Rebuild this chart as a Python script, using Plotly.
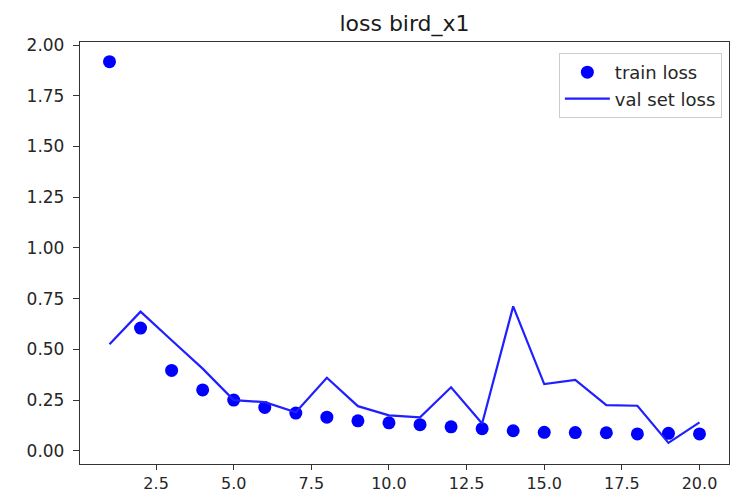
import plotly.graph_objects as go

epochs = list(range(1, 21))
train_loss = [1.918, 0.605, 0.396, 0.300, 0.250, 0.214, 0.186, 0.166, 0.148, 0.138,
              0.129, 0.118, 0.109, 0.099, 0.091, 0.090, 0.089, 0.083, 0.086, 0.083]
val_loss = [0.525, 0.686, 0.545, 0.405, 0.250, 0.240, 0.190, 0.360, 0.220, 0.175,
            0.165, 0.313, 0.135, 0.712, 0.329, 0.350, 0.225, 0.222, 0.039, 0.140]

x_ticks = [2.5, 5.0, 7.5, 10.0, 12.5, 15.0, 17.5, 20.0]
y_ticks = [0.0, 0.25, 0.5, 0.75, 1.0, 1.25, 1.5, 1.75, 2.0]

fig = go.Figure()
fig.add_trace(go.Scatter(x=epochs, y=train_loss, mode="markers", name="train loss",
                         marker=dict(color="#0000ff", size=13)))
fig.add_trace(go.Scatter(x=epochs, y=val_loss, mode="lines", name="val set loss",
                         line=dict(color="#1f1fff", width=2.2)))

axis_common = dict(showline=True, linecolor="#333333", linewidth=1.3, mirror=True,
                   ticks="outside", tickwidth=1.3, tickcolor="#333333",
                   showgrid=False, zeroline=False, automargin=False)

fig.update_layout(
    width=730, height=497,
    margin=dict(l=80, r=1, t=42, b=33),
    plot_bgcolor="white", paper_bgcolor="white",
    title=dict(text="loss bird_x1", x=0.5, xanchor="center", xref="paper",
               y=1 - 23 / 497, yanchor="middle",
               font=dict(family="DejaVu Sans", size=22, color="#1a1a1a")),
    xaxis=dict(range=[0.05, 20.95], tickvals=x_ticks, ticklabelstandoff=0, ticklen=5,
               ticktext=[f"{v:.1f}" for v in x_ticks],
               tickfont=dict(family="DejaVu Sans", size=16, color="#262626"),
               **axis_common),
    yaxis=dict(range=[-0.065, 2.015], tickvals=y_ticks, ticklabelstandoff=5, ticklen=6,
               ticktext=[f"{v:.2f}" for v in y_ticks],
               tickfont=dict(family="DejaVu Sans", size=17, color="#262626"),
               **axis_common),
    legend=dict(x=0.989, y=0.974, xanchor="right", yanchor="top",
                bgcolor="white", bordercolor="#cccccc", borderwidth=1,
                font=dict(family="DejaVu Sans", size=18, color="#262626"),
                itemwidth=45, tracegroupgap=0),
    showlegend=True,
)

fig.write_html("out.html")
